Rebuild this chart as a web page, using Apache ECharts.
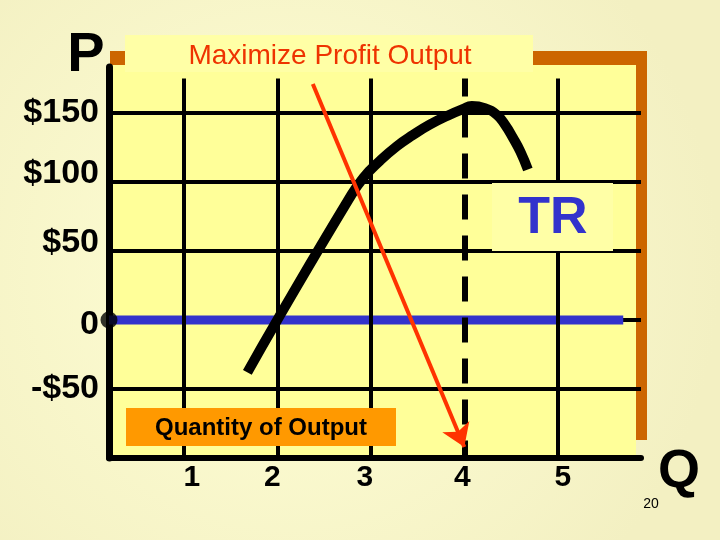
<!DOCTYPE html>
<html>
<head>
<meta charset="utf-8">
<script src="https://cdn.jsdelivr.net/npm/echarts@6/dist/echarts.min.js"></script>
<style>html,body{margin:0;padding:0;}#c{width:720px;height:540px;}</style>
</head>
<body>
<div id="c"></div>
<script>
// ---- data ----
const xTickValues = [1, 2, 3, 4, 5];
const xTickLabels = ['1', '2', '3', '4', '5'];
const yTickValues = [150, 100, 50, 0, -50];
const yTickLabels = ['$150', '$100', '$50', '0', '-$50'];
const trQ = [1.68, 2.00, 2.76, 2.92, 3.10, 3.28, 3.45, 3.63, 3.82, 3.99, 4.08, 4.22, 4.35, 4.44, 4.52, 4.60, 4.68];
const trV = [-38, 0, 87, 103, 115.5, 126, 134, 141.5, 148, 153, 155, 153.5, 148.5, 141, 132, 122, 109];
const zeroQ = [0.2, 5.70];
const zeroV = [0, 0];
const arrowStart = [2.38, 171];
const arrowEnd = [4, -92];
const profitMaxQ = 4;
const gridTopV = 175;
const axisMinQ = 0.2, axisMaxQ = 5.89;
const axisMinV = -100, axisMaxV = 183.3;

// ---- styles ----
const FONT = 'Liberation Sans';
const yLabelStyle = ['n', 'up', 'up', 'dn', 'n'];
const xLabelStyle = ['r8', 'l5', 'l6', 'l2', 'r5'];

const chart = echarts.init(document.getElementById('c'), null, {renderer: 'canvas'});

const yBase = {fontSize: 34, fontWeight: 'bold', fontFamily: FONT, color: '#000'};
const yRich = {
  n: Object.assign({}, yBase),
  up: Object.assign({padding: [0, 0, 16, 0]}, yBase),
  dn: Object.assign({padding: [10, 0, 0, 0]}, yBase)
};
const xBase = {fontSize: 30, fontWeight: 'bold', fontFamily: FONT, color: '#000'};
const xRich = {
  r8: Object.assign({padding: [0, 0, 0, 16]}, xBase),
  l5: Object.assign({padding: [0, 10, 0, 0]}, xBase),
  l6: Object.assign({padding: [0, 12, 0, 0]}, xBase),
  l2: Object.assign({padding: [0, 4, 0, 0]}, xBase),
  r5: Object.assign({padding: [0, 0, 0, 10]}, xBase)
};

const vGridLines = xTickValues.filter(q => q !== profitMaxQ).map(q => [
  {coord: [q, gridTopV]}, {coord: [q, axisMinV]}
]);
const dashedLine = [
  {coord: [profitMaxQ, gridTopV], lineStyle: {type: [25, 16], dashOffset: 7, width: 6, color: '#000'}},
  {coord: [profitMaxQ, axisMinV]}
];

const option = {
  animation: false,
  grid: {left: 109, right: 79, top: 67, bottom: 82, show: false},
  xAxis: {
    type: 'value', min: axisMinQ, max: axisMaxQ,
    axisLine: {show: true, onZero: false, lineStyle: {color: '#000', width: 6}},
    axisTick: {show: false},
    splitLine: {show: false},
    axisLabel: {
      customValues: xTickValues,
      margin: 5,
      fontSize: 30, fontWeight: 'bold', fontFamily: FONT, color: '#000',
      formatter: function (v) {
        const i = xTickValues.indexOf(v);
        return i < 0 ? '' : '{' + xLabelStyle[i] + '|' + xTickLabels[i] + '}';
      },
      rich: xRich
    }
  },
  yAxis: {
    type: 'value', min: axisMinV, max: axisMaxV, interval: 50,
    axisLine: {show: true, lineStyle: {color: '#000', width: 7}},
    axisTick: {show: false},
    splitLine: {show: true, showMaxLine: false, showMinLine: false, lineStyle: {color: '#000', width: 4}},
    axisLabel: {
      margin: 10,
      showMaxLabel: false,
      fontSize: 34, fontWeight: 'bold', fontFamily: FONT, color: '#000',
      formatter: function (v) {
        const i = yTickValues.indexOf(v);
        return i < 0 ? '' : '{' + yLabelStyle[i] + '|' + yTickLabels[i] + '}';
      },
      rich: yRich
    }
  },
  graphic: [
    {type: 'rect', z: -100, silent: true, shape: {x: 0, y: 0, width: 720, height: 540},
      style: {fill: {type: 'radial', x: 0.4, y: 0.5, r: 0.8,
        colorStops: [{offset: 0, color: '#FFFFD6'}, {offset: 1, color: '#F3F0C2'}]}}},
    {type: 'rect', z: -90, silent: true, shape: {x: 110, y: 51, width: 537, height: 389}, style: {fill: '#CC6600'}},
    {type: 'rect', z: -80, silent: true, shape: {x: 109, y: 65, width: 527, height: 392}, style: {fill: '#FFFF99'}},
    {type: 'rect', z: 10, silent: true, shape: {x: 125, y: 35, width: 408, height: 37}, style: {fill: '#FFFFA6'}},
    {type: 'text', z: 11, silent: true, x: 330, y: 56,
      style: {text: 'Maximize Profit Output', fill: '#EE3300', font: '28px "Liberation Sans"', textAlign: 'center', textVerticalAlign: 'middle'}},
    {type: 'rect', z: 10, silent: true, shape: {x: 492, y: 183, width: 121, height: 68}, style: {fill: '#FFFFA6'}},
    {type: 'text', z: 11, silent: true, x: 553, y: 219,
      style: {text: 'TR', fill: '#3333CC', font: 'bold 52px "Liberation Sans"', textAlign: 'center', textVerticalAlign: 'middle'}},
    {type: 'rect', z: 10, silent: true, shape: {x: 126, y: 408, width: 270, height: 38}, style: {fill: '#FF9900'}},
    {type: 'text', z: 11, silent: true, x: 261, y: 428,
      style: {text: 'Quantity of Output', fill: '#000', font: 'bold 24px "Liberation Sans"', textAlign: 'center', textVerticalAlign: 'middle'}},
    {type: 'text', z: 11, silent: true, x: 86, y: 56,
      style: {text: 'P', fill: '#000', font: 'bold 56px "Liberation Sans"', textAlign: 'center', textVerticalAlign: 'middle'}},
    {type: 'text', z: 11, silent: true, x: 679, y: 472,
      style: {text: 'Q', fill: '#000', font: 'bold 54px "Liberation Sans"', textAlign: 'center', textVerticalAlign: 'middle'}},
    {type: 'text', z: 11, silent: true, x: 651, y: 504,
      style: {text: '20', fill: '#000', font: '14px "Liberation Sans"', textAlign: 'center', textVerticalAlign: 'middle'}}
  ],
  series: [
    {
      name: 'grid', type: 'line', z: 1, data: [], silent: true,
      markLine: {
        silent: true, symbol: ['none', 'none'], label: {show: false},
        lineStyle: {color: '#000', width: 4, type: 'solid'},
        emphasis: {disabled: true},
        data: vGridLines.concat([dashedLine])
      }
    },
    {
      name: 'zero', type: 'line', z: 3, silent: true, symbol: 'none',
      lineStyle: {color: '#3333CC', width: 9, cap: 'butt'},
      data: zeroQ.map((q, i) => [q, zeroV[i]])
    },
    {
      name: 'TR', type: 'line', z: 4, silent: true, symbol: 'none', smooth: 0.5,
      lineStyle: {color: '#000', width: 10, cap: 'butt', join: 'round'},
      data: trQ.map((q, i) => [q, trV[i]])
    },
    {
      name: 'origin', type: 'scatter', z: 5, silent: true, clip: false,
      symbolSize: 17, itemStyle: {color: '#000'},
      data: [[zeroQ[0], zeroV[0]]]
    },
    {
      name: 'arrow', type: 'line', z: 6, data: [], silent: true,
      markLine: {
        silent: true, symbol: ['none', 'arrow'], symbolSize: 22, label: {show: false},
        lineStyle: {color: '#FF3300', width: 4, type: 'solid'},
        itemStyle: {color: '#FF3300'},
        emphasis: {disabled: true},
        data: [[{coord: arrowStart, symbol: 'none'}, {coord: arrowEnd, symbol: 'arrow', symbolSize: 22}]]
      }
    }
  ]
};
chart.setOption(option);
</script>
</body>
</html>
